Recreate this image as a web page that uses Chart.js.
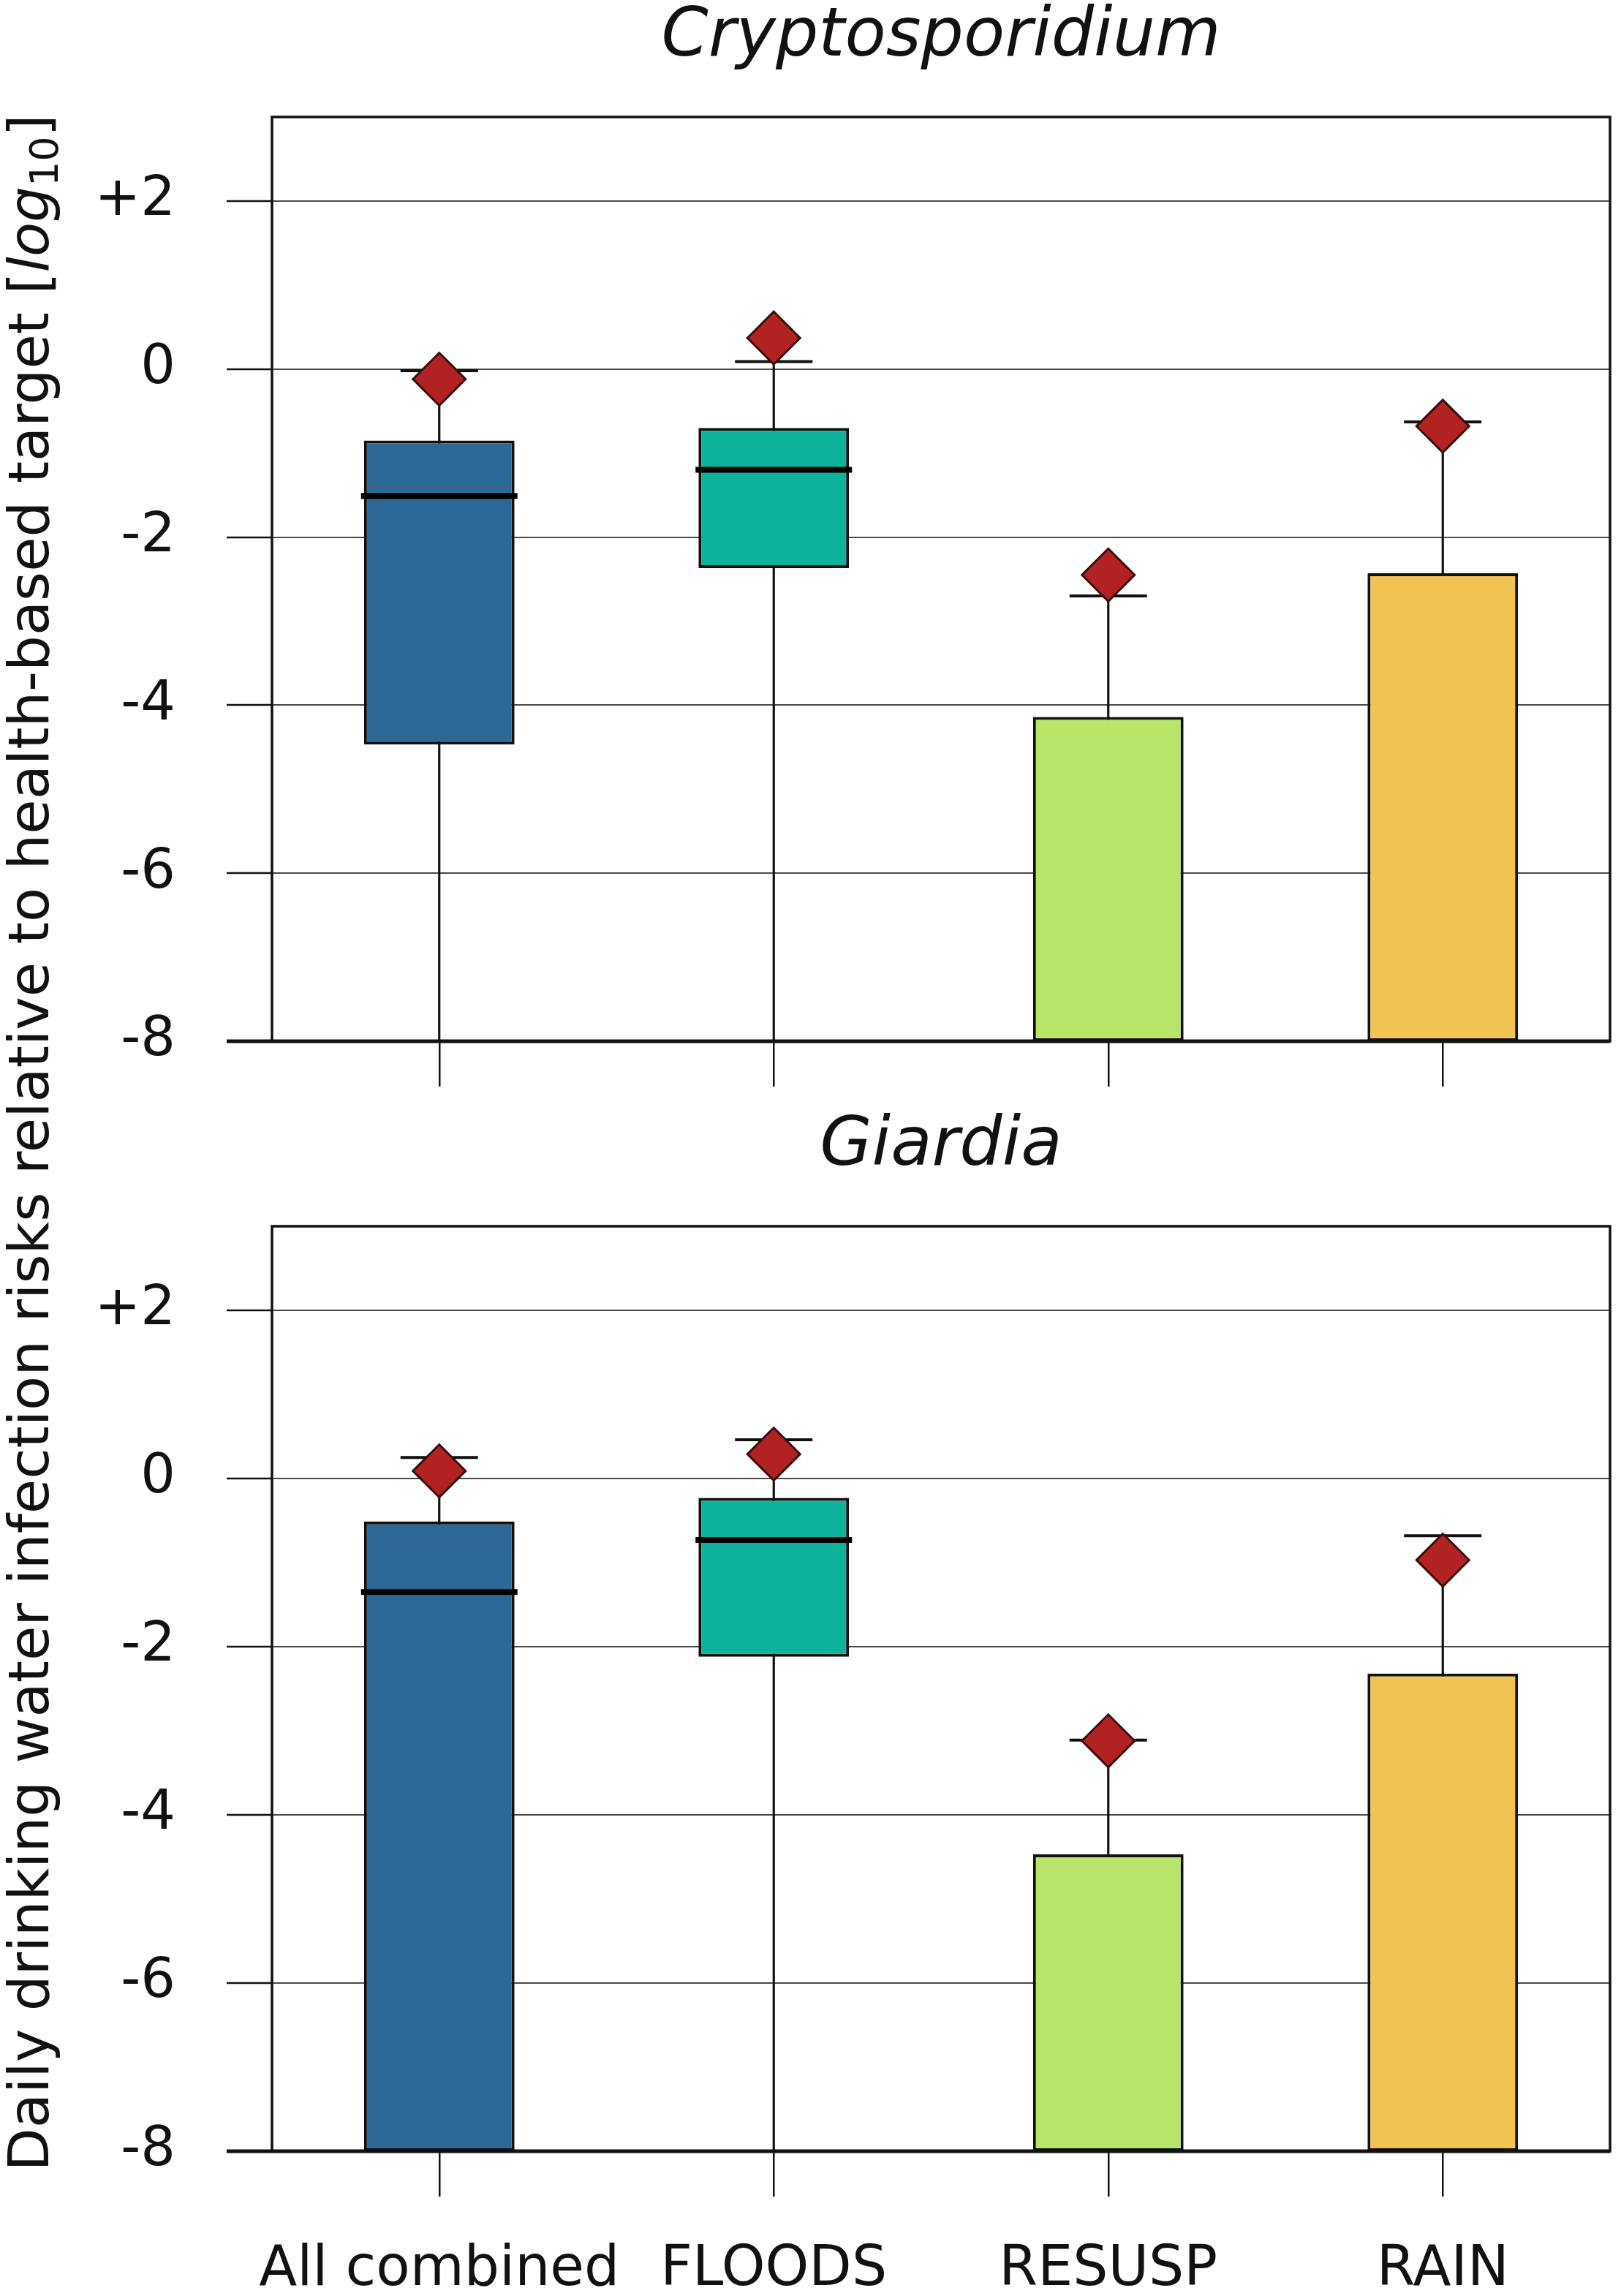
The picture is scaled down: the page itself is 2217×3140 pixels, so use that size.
<!DOCTYPE html>
<html>
<head>
<meta charset="utf-8">
<script src="https://cdn.jsdelivr.net/npm/chart.js@4.4.1/dist/chart.umd.min.js"></script>
<style>
  html, body { margin: 0; padding: 0; background: #fff; }
  body { width: 2217px; height: 3140px; position: relative; overflow: hidden; }
  canvas { position: absolute; left: 0; }
  #cTop { top: -12px; }
  #cBottom { top: 1505px; }
  #ylabel {
    position: absolute;
    left: -1410px; top: 1518px;
    width: 2900px; height: 90px; line-height: 90px;
    text-align: center; white-space: nowrap;
    font-family: "DejaVu Sans"; font-size: 77px; color: #111;
    transform: rotate(-90deg);
  }
  #ylabel sub { font-size: 0.7em; vertical-align: -0.25em; line-height: 0; font-style: normal; }
</style>
</head>
<body>
<canvas id="cTop" width="2217" height="1517" style="width:2217px;height:1517px"></canvas>
<canvas id="cBottom" width="2217" height="1635" style="width:2217px;height:1635px"></canvas>
<div id="ylabel">Daily drinking water infection risks relative to health-based target [<i>log</i><sub>10</sub>]</div>
<script>
const categories = ['All combined', 'FLOODS', 'RESUSP', 'RAIN'];
const yTicks = [-8, -6, -4, -2, 0, 2];
const boxColors = ['#2e6896', '#0fb39c', '#b9e66a', '#f0c353'];

// Cryptosporidium
const cryptoBoxLow = [-4.47, -2.37, -8, -8];
const cryptoBoxHigh = [-0.85, -0.70, -4.14, -2.43];
const cryptoMedian = [-1.51, -1.20, null, null];
const cryptoWhiskerLow = [-8, -8, -8, -8];
const cryptoWhiskerHigh = [-0.02, 0.09, -2.70, -0.63];
const cryptoMean = [-0.12, 0.37, -2.45, -0.68];

// Giardia
const giardiaBoxLow = [-8, -2.12, -8, -8];
const giardiaBoxHigh = [-0.51, -0.23, -4.47, -2.32];
const giardiaMedian = [-1.35, -0.73, null, null];
const giardiaWhiskerLow = [-8, -8, -8, -8];
const giardiaWhiskerHigh = [0.25, 0.46, -3.11, -0.68];
const giardiaMean = [0.09, 0.29, -3.12, -0.97];

const FONT = 'DejaVu Sans';

const framePlugin = {
  id: 'frame',
  afterDraw(chart, args, opts) {
    const { ctx, chartArea: a } = chart;
    ctx.save();
    ctx.strokeStyle = '#111';
    ctx.lineWidth = 3.5;
    ctx.strokeRect(a.left, a.top, a.right - a.left, a.bottom - a.top);
    ctx.lineWidth = 5;
    ctx.beginPath();
    ctx.moveTo(a.left - 62, a.bottom);
    ctx.lineTo(a.right, a.bottom);
    ctx.stroke();
    // panel title centred over the plot area
    ctx.fillStyle = '#111';
    ctx.font = 'italic 92px "' + FONT + '"';
    ctx.textAlign = 'center';
    ctx.textBaseline = 'middle';
    ctx.fillText(opts.text, (a.left + a.right) / 2, 64);
    ctx.restore();
  }
};

function makeChart(id, title, boxLow, boxHigh, median, whLow, whHigh, mean, showLabels, xHeight) {
  const boxes = boxLow.map((v, i) => [v, boxHigh[i]]);
  const whiskers = whLow.map((v, i) => [v, whHigh[i]]);
  return new Chart(document.getElementById(id), {
    type: 'bar',
    data: {
      labels: categories,
      datasets: [
        {
          data: whiskers, grouped: false, barThickness: 2.5,
          backgroundColor: '#111', borderWidth: 0, order: 5
        },
        {
          data: boxes, grouped: false, barPercentage: 0.45, categoryPercentage: 1,
          backgroundColor: boxColors, borderColor: '#111', borderWidth: 4,
          borderSkipped: false, order: 4
        },
        {
          type: 'line', data: median, showLine: false, order: 3,
          pointStyle: 'line', pointRadius: 107, pointBorderWidth: 8,
          pointBorderColor: '#000'
        },
        {
          type: 'line', data: whHigh, showLine: false, order: 2,
          pointStyle: 'line', pointRadius: 53, pointBorderWidth: 4,
          pointBorderColor: '#111'
        },
        {
          type: 'line', data: mean, showLine: false, order: 1,
          pointStyle: 'rectRot', pointRadius: 36, pointBorderWidth: 3,
          pointBackgroundColor: '#b22222', pointBorderColor: '#3a0c0c'
        }
      ]
    },
    options: {
      responsive: false,
      devicePixelRatio: 1,
      animation: false,
      events: [],
      layout: { autoPadding: false, padding: { left: 0, right: 15, top: 172, bottom: 0 } },
      plugins: {
        legend: { display: false },
        tooltip: { enabled: false },
        frame: { text: title }
      },
      scales: {
        x: {
          offset: true,
          grid: { offset: false, drawOnChartArea: false, drawTicks: true, tickLength: 62, color: '#111', lineWidth: 2.5 },
          border: { display: false },
          ticks: {
            display: showLabels, autoSkip: false, maxRotation: 0, padding: 56,
            color: '#111', font: { family: FONT, size: 76 }
          },
          afterFit: (s) => { s.height = xHeight; s.paddingLeft = 0; s.paddingRight = 0; }
        },
        y: {
          min: -8, max: 3,
          grid: { color: '#4a4a4a', lineWidth: 2, tickLength: 62, tickColor: '#111', tickWidth: 2.5 },
          border: { display: false },
          ticks: {
            padding: 70, color: '#111', font: { family: FONT, size: 75 },
            callback: (v) => (v > 0 ? '+' + v : String(v))
          },
          afterBuildTicks: (s) => { s.ticks = yTicks.map((v) => ({ value: v })); },
          afterFit: (s) => { s.width = 372; s.paddingTop = 0; s.paddingBottom = 0; }
        }
      }
    },
    plugins: [framePlugin]
  });
}

makeChart('cTop', 'Cryptosporidium', cryptoBoxLow, cryptoBoxHigh, cryptoMedian,
  cryptoWhiskerLow, cryptoWhiskerHigh, cryptoMean, false, 81);
makeChart('cBottom', 'Giardia', giardiaBoxLow, giardiaBoxHigh, giardiaMedian,
  giardiaWhiskerLow, giardiaWhiskerHigh, giardiaMean, true, 198);
</script>
</body>
</html>
